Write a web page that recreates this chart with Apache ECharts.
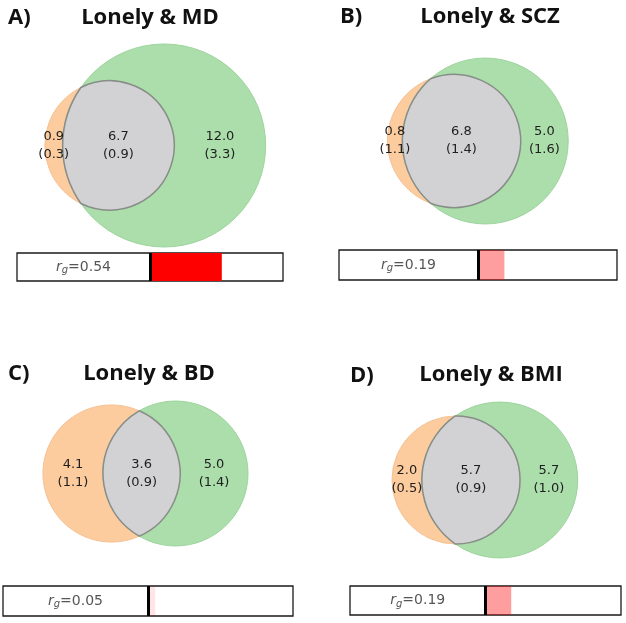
<!DOCTYPE html>
<html>
<head>
<meta charset="utf-8">
<script src="https://cdn.jsdelivr.net/npm/echarts@6/dist/echarts.min.js"></script>
<style>
  html, body { margin: 0; padding: 0; background: #fff; }
  #main { width: 626px; height: 623px; }
</style>
</head>
<body>
<div id="main"></div>
<script>
// values
const panelTags = ['A)', 'B)', 'C)', 'D)'];
const titles = ['Lonely & MD', 'Lonely & SCZ', 'Lonely & BD', 'Lonely & BMI'];
const lonelyOnly = [0.9, 0.8, 4.1, 2.0];
const lonelyOnlySE = [0.3, 1.1, 1.1, 0.5];
const shared = [6.7, 6.8, 3.6, 5.7];
const sharedSE = [0.9, 1.4, 0.9, 0.9];
const traitOnly = [12.0, 5.0, 5.0, 5.7];
const traitOnlySE = [3.3, 1.6, 1.4, 1.0];
const rg = [0.54, 0.19, 0.05, 0.19];

// layout (pixels)
const vennBox = [
  { left: 0, top: 35, ox: 109.5, oy: 145.5, k: 41.6 },
  { left: 313, top: 35, ox: 454, oy: 141, k: 42.8 },
  { left: 0, top: 385, ox: 111.5, oy: 473.5, k: 43.8 },
  { left: 313, top: 385, ox: 456, oy: 480, k: 40.9 }
];
const boxW = 313, boxH = 215;
const barBox = [
  { left: 17, top: 253, width: 266, height: 28 },
  { left: 339, top: 250, width: 278, height: 30 },
  { left: 3, top: 586, width: 290, height: 30 },
  { left: 350, top: 586, width: 271, height: 29 }
];
const tagPos = [[8, 7], [340, 6], [8, 363], [350, 365]];
const titlePos = [[150, 7], [490, 6], [149, 363], [491, 364]];

const ORANGE = '#fccb9e', GREEN = '#abdeab', GREY = '#d2d1d4';

function lensArea(r1, r2, d) {
  if (d >= r1 + r2) return 0;
  if (d <= Math.abs(r1 - r2)) return Math.PI * Math.min(r1, r2) ** 2;
  const a1 = Math.acos((d * d + r1 * r1 - r2 * r2) / (2 * d * r1));
  const a2 = Math.acos((d * d + r2 * r2 - r1 * r1) / (2 * d * r2));
  const s = Math.sqrt((-d + r1 + r2) * (d + r1 - r2) * (d - r1 + r2) * (d + r1 + r2));
  return r1 * r1 * a1 + r2 * r2 * a2 - 0.5 * s;
}

function solveDist(r1, r2, overlap) {
  let lo = Math.abs(r1 - r2), hi = r1 + r2;
  for (let i = 0; i < 80; i++) {
    const mid = (lo + hi) / 2;
    if (lensArea(r1, r2, mid) > overlap) lo = mid; else hi = mid;
  }
  return (lo + hi) / 2;
}

function renderVenn(params, api) {
  const i = api.value(3);
  const c1 = api.coord([0, 0]), c2 = api.coord([api.value(0), 0]);
  const R1 = api.size([api.value(1), 0])[0], R2 = api.size([api.value(2), 0])[0];
  const dp = c2[0] - c1[0];
  const a = (dp * dp + R1 * R1 - R2 * R2) / (2 * dp);
  const h = Math.sqrt(Math.max(R1 * R1 - a * a, 0));
  const xi = c1[0] + a, yt = c1[1] - h, yb = c1[1] + h;
  const lens = 'M' + xi + ' ' + yt +
    ' A' + R1 + ' ' + R1 + ' 0 ' + (a < 0 ? 1 : 0) + ' 1 ' + xi + ' ' + yb +
    ' A' + R2 + ' ' + R2 + ' 0 ' + (dp - a < 0 ? 1 : 0) + ' 1 ' + xi + ' ' + yt + ' Z';
  const cy = c1[1];
  const lab = (txt, x) => ({
    type: 'text',
    style: {
      text: txt, x: x, y: cy, align: 'center', verticalAlign: 'middle',
      font: '13px "DejaVu Sans"', lineHeight: 18, fill: '#1e1e1e'
    }
  });
  const fmt = (v, s) => v.toFixed(1) + '\n(' + s.toFixed(1) + ')';
  return {
    type: 'group',
    children: [
      { type: 'circle', shape: { cx: c1[0], cy: cy, r: R1 }, style: { fill: ORANGE, stroke: '#f5c294', lineWidth: 1 } },
      { type: 'circle', shape: { cx: c2[0], cy: cy, r: R2 }, style: { fill: GREEN, stroke: '#9cd49c', lineWidth: 1 } },
      { type: 'path', shape: { pathData: lens }, style: { fill: GREY, stroke: '#878d87', lineWidth: 1.5 } },
      lab(fmt(lonelyOnly[i], lonelyOnlySE[i]), ((c1[0] - R1) + (c2[0] - R2)) / 2),
      lab(fmt(shared[i], sharedSE[i]), ((c2[0] - R2) + (c1[0] + R1)) / 2),
      lab(fmt(traitOnly[i], traitOnlySE[i]), ((c1[0] + R1) + (c2[0] + R2)) / 2)
    ]
  };
}

const grid = [], xAxis = [], yAxis = [], series = [], title = [];
const titleFont = { fontFamily: 'Open Sans', fontWeight: 'bold', fontSize: 22, color: '#111' };

for (let i = 0; i < 4; i++) {
  const r1 = Math.sqrt((lonelyOnly[i] + shared[i]) / Math.PI);
  const r2 = Math.sqrt((traitOnly[i] + shared[i]) / Math.PI);
  const d = solveDist(r1, r2, shared[i]);
  const vb = vennBox[i];

  grid.push({ left: vb.left, top: vb.top, width: boxW, height: boxH });
  xAxis.push({ type: 'value', gridIndex: i, show: false,
    min: (vb.left - vb.ox) / vb.k, max: (vb.left + boxW - vb.ox) / vb.k });
  yAxis.push({ type: 'value', gridIndex: i, show: false,
    min: (vb.oy - vb.top - boxH) / vb.k, max: (vb.oy - vb.top) / vb.k });
  series.push({
    type: 'custom', xAxisIndex: i, yAxisIndex: i, clip: false, silent: true,
    data: [[d, r1, r2, i]], renderItem: renderVenn
  });

  title.push({ text: panelTags[i], left: tagPos[i][0], top: tagPos[i][1], padding: 0,
    textStyle: titleFont });
  title.push({ text: titles[i], left: titlePos[i][0], top: titlePos[i][1], padding: 0,
    textAlign: 'center', textStyle: titleFont });
}

for (let i = 0; i < 4; i++) {
  const g = 4 + i;
  const bb = barBox[i];
  const alpha = Math.min(1, 2 * rg[i]);
  grid.push({ left: bb.left, top: bb.top, width: bb.width, height: bb.height,
    show: true, backgroundColor: '#fff', borderColor: '#1a1a1a', borderWidth: 1.3 });
  xAxis.push({ type: 'value', gridIndex: g, show: false, min: -1, max: 1 });
  yAxis.push({ type: 'category', gridIndex: g, show: false, data: ['rg'] });
  series.push({
    type: 'bar', xAxisIndex: g, yAxisIndex: g, barWidth: '100%', silent: true,
    data: [rg[i]],
    itemStyle: { color: 'rgba(255,0,0,' + alpha + ')' },
    markLine: {
      silent: true, symbol: 'none', animation: false,
      label: { show: false },
      lineStyle: { color: '#000', width: 3, type: 'solid' },
      data: [{ xAxis: 0 }]
    }
  });
  series.push({
    type: 'scatter', xAxisIndex: g, yAxisIndex: g, symbolSize: 0, silent: true,
    data: [[-0.5, 0]],
    label: {
      show: true, position: 'inside',
      formatter: '{i|r}{s|g}{n|=' + rg[i].toFixed(2) + '}',
      rich: {
        i: { fontFamily: 'DejaVu Sans', fontStyle: 'italic', fontSize: 14, color: '#2a2a2a' },
        s: { fontFamily: 'DejaVu Sans', fontStyle: 'italic', fontSize: 10, color: '#2a2a2a', padding: [7, 0, 0, 0] },
        n: { fontFamily: 'DejaVu Sans', fontSize: 14, color: '#2a2a2a' }
      }
    }
  });
}

const chart = echarts.init(document.getElementById('main'));
chart.setOption({
  animation: false,
  backgroundColor: '#fff',
  title: title,
  grid: grid,
  xAxis: xAxis,
  yAxis: yAxis,
  series: series
});
</script>
</body>
</html>
